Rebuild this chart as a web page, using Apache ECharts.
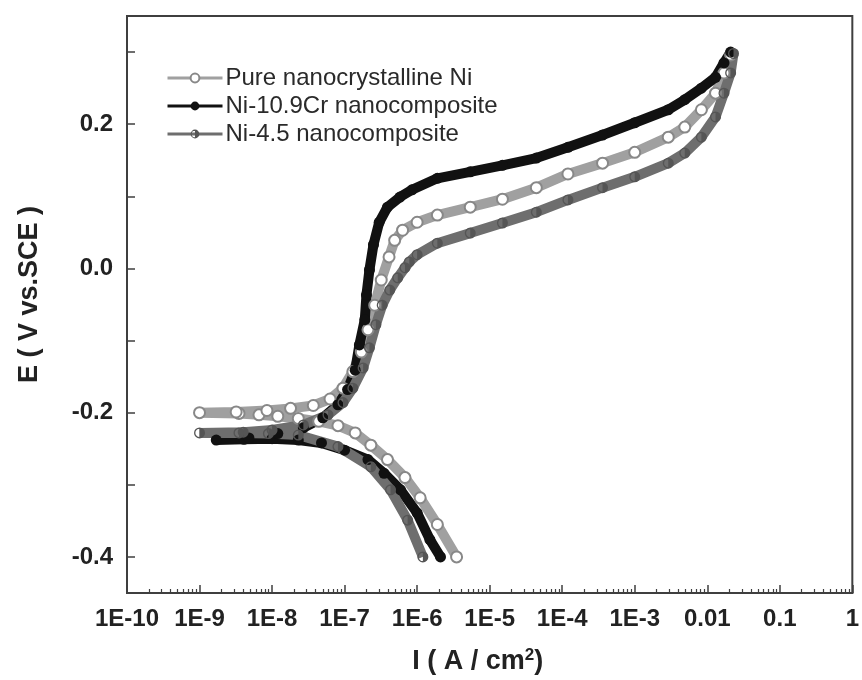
<!DOCTYPE html>
<html>
<head>
<meta charset="utf-8">
<script src="https://cdn.jsdelivr.net/npm/echarts@6/dist/echarts.min.js"></script>
<style>
html,body{margin:0;padding:0;background:#fff;}
#chart{width:862px;height:680px;}
</style>
</head>
<body>
<div id="chart"></div>
<script>
// ---- data (current in A/cm2, potential in V vs SCE) ----
var seriesNames = ['Pure nanocrystalline Ni', 'Ni-10.9Cr nanocomposite', 'Ni-4.5 nanocomposite'];

var pureNiCurrent = [3.5e-6, 1.9e-6, 1.1e-6, 6.8e-7, 3.9e-7, 2.3e-7, 1.4e-7, 8.1e-8, 4.4e-8, 2.3e-8, 1.2e-8, 6.6e-9, 3.5e-9, 1.0e-9,
  3.2e-9, 8.5e-9, 1.8e-8, 3.7e-8, 6.3e-8, 9.5e-8, 1.3e-7, 1.7e-7, 2.1e-7, 2.6e-7, 3.2e-7, 4.1e-7, 4.9e-7, 6.3e-7,
  1.0e-6, 1.9e-6, 5.4e-6, 1.5e-5, 4.4e-5, 1.2e-4, 3.6e-4, 1.0e-3, 2.9e-3, 4.9e-3, 8.3e-3, 1.3e-2, 1.7e-2, 2.1e-2];
var pureNiPotential = [-0.400, -0.355, -0.318, -0.290, -0.265, -0.245, -0.228, -0.218, -0.212, -0.208, -0.205, -0.203, -0.201, -0.200,
  -0.199, -0.197, -0.194, -0.190, -0.181, -0.166, -0.143, -0.116, -0.085, -0.051, -0.016, 0.016, 0.039, 0.053,
  0.064, 0.074, 0.085, 0.096, 0.112, 0.131, 0.146, 0.161, 0.182, 0.196, 0.220, 0.243, 0.271, 0.296];

var crCurrent = [2.1e-6, 1.5e-6, 1.0e-6, 5.9e-7, 3.5e-7, 2.1e-7, 1.0e-7, 4.8e-8, 2.3e-8, 1.0e-8, 4.1e-9, 1.7e-9,
  4.8e-9, 1.2e-8, 2.7e-8, 5.0e-8, 8.1e-8, 1.1e-7, 1.4e-7, 1.6e-7, 1.9e-7, 2.0e-7, 2.2e-7, 2.5e-7, 3.0e-7, 3.9e-7,
  5.8e-7, 8.5e-7, 1.9e-6, 5.4e-6, 1.5e-5, 4.4e-5, 1.2e-4, 3.6e-4, 1.0e-3, 2.9e-3, 4.9e-3, 8.3e-3, 1.3e-2, 1.7e-2, 2.1e-2];
var crPotential = [-0.400, -0.376, -0.339, -0.307, -0.284, -0.265, -0.252, -0.242, -0.238, -0.236, -0.237, -0.238,
  -0.235, -0.229, -0.221, -0.207, -0.189, -0.168, -0.141, -0.106, -0.071, -0.037, -0.002, 0.033, 0.064, 0.085,
  0.099, 0.109, 0.125, 0.134, 0.143, 0.153, 0.168, 0.185, 0.202, 0.220, 0.234, 0.250, 0.265, 0.285, 0.300];

var ni45Current = [1.2e-6, 7.4e-7, 4.3e-7, 2.3e-7, 8.1e-8, 2.3e-8, 8.9e-9, 3.5e-9, 1.0e-9,
  4.0e-9, 1.0e-8, 2.7e-8, 5.9e-8, 9.5e-8, 1.3e-7, 1.8e-7, 2.2e-7, 2.7e-7, 3.3e-7, 4.2e-7, 5.4e-7, 6.8e-7, 7.8e-7,
  1.0e-6, 1.9e-6, 5.4e-6, 1.5e-5, 4.4e-5, 1.2e-4, 3.6e-4, 1.0e-3, 2.9e-3, 4.9e-3, 8.3e-3, 1.3e-2, 1.7e-2, 2.1e-2, 2.3e-2];
var ni45Potential = [-0.400, -0.349, -0.307, -0.275, -0.247, -0.231, -0.229, -0.228, -0.228,
  -0.227, -0.224, -0.217, -0.203, -0.186, -0.166, -0.138, -0.110, -0.078, -0.051, -0.030, -0.013, 0.001, 0.009,
  0.019, 0.035, 0.049, 0.063, 0.078, 0.095, 0.112, 0.127, 0.146, 0.160, 0.182, 0.210, 0.243, 0.271, 0.298];

var xTickLabels = ['1E-10', '1E-9', '1E-8', '1E-7', '1E-6', '1E-5', '1E-4', '1E-3', '0.01', '0.1', '1'];
var yTickValues = [-0.4, -0.3, -0.2, -0.1, 0.0, 0.1, 0.2, 0.3];
var yLabelValues = [-0.4, -0.2, 0.0, 0.2];
var minorMultipliers = [2, 3, 4, 5, 6, 7, 8, 9];

// ---- build ----
function pairs(xs, ys) { return xs.map(function (x, i) { return [x, ys[i]]; }); }
var minorTickValues = [];
for (var e = -10; e < 0; e++) {
  minorMultipliers.forEach(function (m) { minorTickValues.push(+(m * Math.pow(10, e)).toPrecision(3)); });
}
var FONT = '"Liberation Sans", Arial, Helvetica, sans-serif';
var halfCircle = 'path://M0,-10 A10,10 0 1,1 0,10 A10,10 0 1,1 0,-10 Z M0,-7.6 A7.6,7.6 0 1,0 0,7.6 A7.6,7.6 0 1,0 0,-7.6 Z M0,-10 A10,10 0 0,1 0,10 Z';

var chart = echarts.init(document.getElementById('chart'), null, { renderer: 'canvas' });
chart.setOption({
  animation: false,
  backgroundColor: '#fff',
  grid: { left: 127, right: 3, top: 16, bottom: 86, show: true, borderColor: '#3f3f3f', borderWidth: 2, backgroundColor: 'transparent' },
  legend: {
    data: seriesNames, orient: 'vertical', left: 161, top: 61, itemWidth: 55, itemHeight: 11, itemGap: 4,
    textStyle: { fontFamily: FONT, fontSize: 24, color: '#2a2a2a', padding: [0, 0, 0, -2] },
    lineStyle: { width: 3 }
  },
  xAxis: [{
    type: 'log', logBase: 10, min: 1e-10, max: 1, interval: 1,
    name: 'I ( A / cm{sup|2})', nameLocation: 'middle', nameGap: 54,
    nameTextStyle: { fontFamily: FONT, fontSize: 27, fontWeight: 'bold', color: '#222', padding: [0, 24, 0, 0],
      rich: { sup: { fontFamily: FONT, fontSize: 17, fontWeight: 'bold', color: '#222', verticalAlign: 'top', padding: [0, 0, 12, 0] } } },
    axisLine: { onZero: false, lineStyle: { color: '#3f3f3f', width: 2 } },
    axisTick: { inside: true, length: 8, lineStyle: { color: '#3f3f3f', width: 1.5 } },
    axisLabel: { margin: 14, interval: 0, fontFamily: FONT, fontSize: 24, fontWeight: 'bold', color: '#222',
      formatter: function (v) { return xTickLabels[Math.round(Math.log10(v)) + 10]; } },
    splitLine: { show: false }
  }, {
    type: 'log', logBase: 10, min: 1e-10, max: 1, position: 'bottom',
    axisLine: { show: false, onZero: false },
    axisTick: { show: true, inside: true, length: 4, customValues: minorTickValues, lineStyle: { color: '#3f3f3f', width: 1.2 } },
    axisLabel: { show: false },
    splitLine: { show: false }
  }],
  yAxis: {
    type: 'value', min: -0.45, max: 0.35,
    name: 'E ( V vs.SCE )', nameLocation: 'middle', nameGap: 84,
    nameTextStyle: { fontFamily: FONT, fontSize: 27, fontWeight: 'bold', color: '#222', padding: [0, 0, 0, 20] },
    axisLine: { onZero: false, lineStyle: { color: '#3f3f3f', width: 2 } },
    axisTick: { inside: true, length: 8, customValues: yTickValues, lineStyle: { color: '#3f3f3f', width: 1.5 } },
    axisLabel: { margin: 14, fontFamily: FONT, fontSize: 24, fontWeight: 'bold', color: '#222', customValues: yLabelValues,
      formatter: function (v) { return v.toFixed(1); } },
    splitLine: { show: false }
  },
  series: [{
    name: seriesNames[0], type: 'line', xAxisIndex: 0, data: pairs(pureNiCurrent, pureNiPotential),
    symbol: 'emptyCircle', symbolSize: 11, showAllSymbol: true,
    lineStyle: { color: '#a0a0a0', width: 10 },
    itemStyle: { color: '#888', borderColor: '#888', borderWidth: 1.5 }
  }, {
    name: seriesNames[1], type: 'line', xAxisIndex: 0, data: pairs(crCurrent, crPotential),
    symbol: 'circle', symbolSize: 11, showAllSymbol: true,
    lineStyle: { color: '#111', width: 10 },
    itemStyle: { color: '#111' }
  }, {
    name: seriesNames[2], type: 'line', xAxisIndex: 0, data: pairs(ni45Current, ni45Potential),
    symbol: halfCircle, symbolSize: 11, showAllSymbol: true,
    lineStyle: { color: '#6e6e6e', width: 10 },
    itemStyle: { color: '#555' }
  }]
});
</script>
</body>
</html>
